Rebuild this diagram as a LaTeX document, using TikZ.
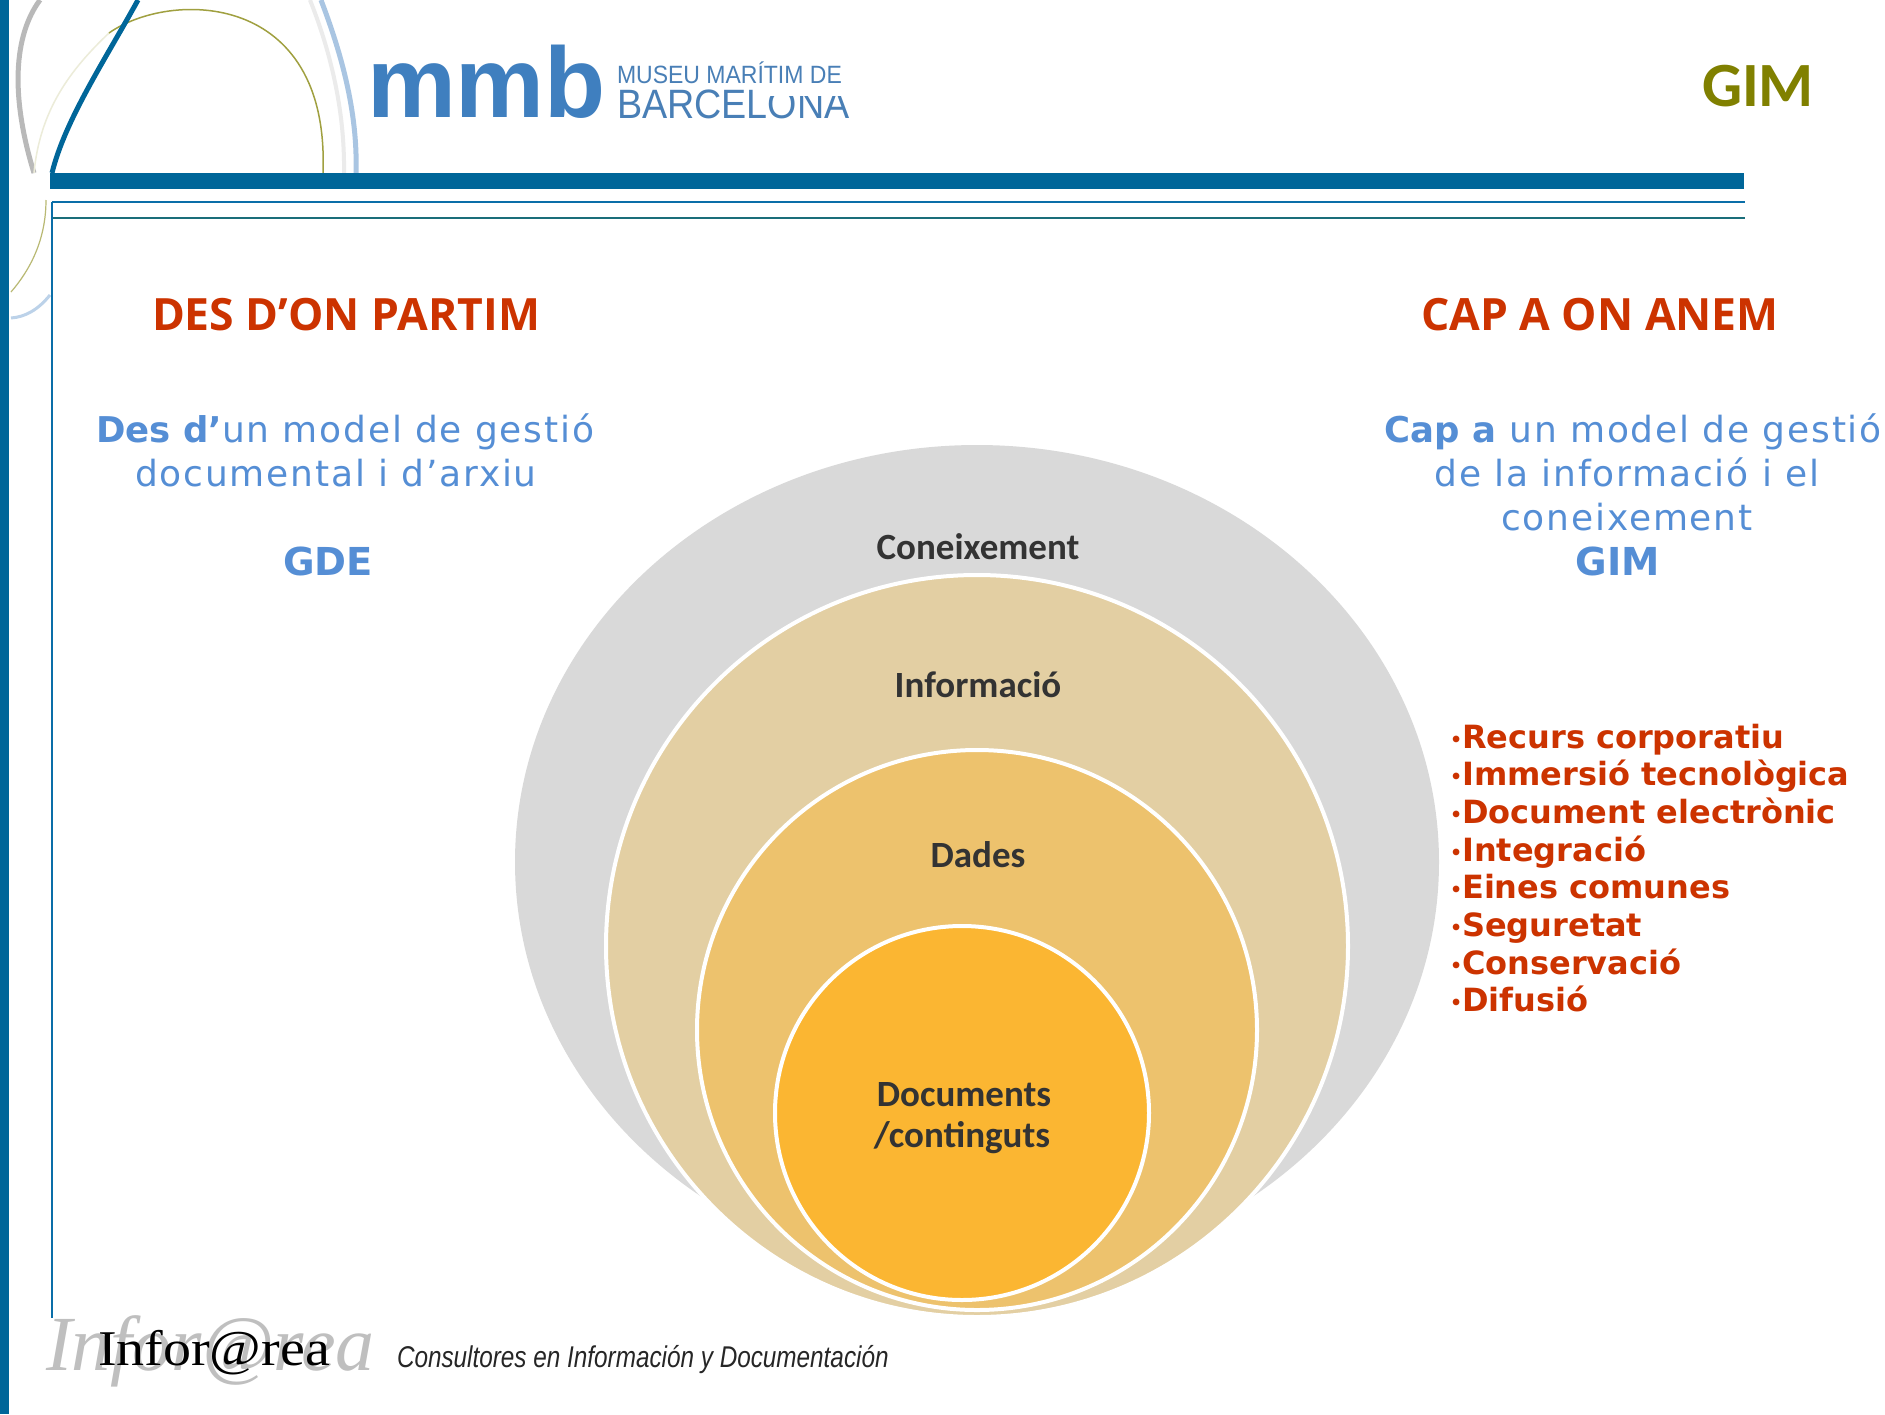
\documentclass[tikz,border=0pt]{standalone}
\usepackage{fontspec}
\setmainfont{Carlito}
\newfontfamily\titlefont{Open Sans}
\newfontfamily\vfont[LetterSpace=5]{DejaVu Sans}
\newfontfamily\vbfont{DejaVu Sans}
\newfontfamily\lsans{Liberation Sans}
\newfontfamily\lserif{Liberation Serif}
\definecolor{bar}{HTML}{006699}
\definecolor{thinb}{HTML}{0A6EA8}
\definecolor{thint}{HTML}{1A6E7A}
\definecolor{redt}{HTML}{CC3300}
\definecolor{bluet}{HTML}{558ED5}
\definecolor{olivet}{HTML}{808000}
\definecolor{logob}{HTML}{3F7FBF}
\definecolor{dark}{HTML}{333333}
\newcommand{\fs}[1]{\fontsize{#1}{#1}\selectfont}
\newcommand{\bul}{{\fs{19}\raisebox{2pt}{•}}}
\tikzset{
  txt/.style={anchor=base,inner sep=0pt,outer sep=0pt},
  lefttxt/.style={anchor=base west,inner sep=0pt,outer sep=0pt},
  ring/.style={draw=white,line width=4pt},
  title/.style={txt,text=redt,font=\titlefont\bfseries\fs{44.5}},
  bluel/.style={txt,text=bluet,font=\vfont\fs{36}},
  blueb/.style={txt,text=bluet,font=\vbfont\bfseries\fs{38.5}},
  item/.style={lefttxt,text=redt,font=\vbfont\bfseries\fs{32}},
  circ/.style={txt,text=dark,font=\bfseries\fs{37}},
}
\begin{document}
\begin{tikzpicture}[x=1pt,y=-1pt]
\useasboundingbox (0,0) rectangle (1885,1414);
\fill[white] (0,0) rectangle (1885,1414);
% swirl
\draw[gray!55,line width=5pt] (40,0) .. controls (14,35) and (10,95) .. (34,173);
\draw[black!8,line width=4pt] (310,0) .. controls (330,50) and (345,110) .. (344,173);
\draw[logob!45,line width=5pt] (321,0) .. controls (340,50) and (358,110) .. (356,173);
\draw[olivet!15,line width=1.5pt] (109,33) .. controls (70,70) and (40,110) .. (34,173);
\draw[olivet!75,line width=1.5pt] (109,33) .. controls (170,-10) and (330,-10) .. (323,173);
\draw[bar,line width=5pt] (138,0) .. controls (105,60) and (65,120) .. (52,173);
\draw[olivet!55,line width=1.2pt] (46,200) .. controls (46,240) and (30,270) .. (11,292);
\draw[logob!35,line width=3pt] (50,295) .. controls (38,310) and (25,317) .. (11,318);
% frame
\fill[bar] (0,0) rectangle (9,1414);
\fill[bar] (50,173) rectangle (1744,189);
\coordinate (t1a) at (52,202); \coordinate (t1b) at (1745,202);
\coordinate (t2a) at (52,218); \coordinate (t2b) at (1745,218);
\coordinate (vb) at (52,1318);
\draw[thinb,line width=1.6pt] (t1a) -- (t1b);
\draw[thint,line width=1.6pt] (t2a) -- (t2b);
\draw[thinb,line width=1.6pt] (t1a) -- (vb);
% logo
\node[lefttxt,text=logob,font=\lsans\bfseries\fs{100}] (mmb) at (367,117) {mmb};
\node[lefttxt,text=logob!85!gray,font=\lsans\fs{25}] (museu) at (617,83) {\scalebox{.92}[1]{MUSEU MARÍTIM DE}};
\node[lefttxt,text=logob!85!gray,font=\lsans\fs{41}] (barna) at (617,118) {\scalebox{.92}[1]{BARCELONA}};
\fill[white] (770,85) rectangle (855,96);
\node[txt,text=olivet,font=\bfseries\fs{63}] (gim) at (1758,106) {GIM};
% titles
\node[title] (t1) at (346,330) {DES D’ON PARTIM};
\node[title] (t2) at (1600,330) {CAP A ON ANEM};
% blue left
\node[bluel] (l1) at (339,442.5) {{\vbfont\bfseries\fs{35.5} Des d’}un model de gestió};
\node[bluel] (l2) at (336,486) {documental i d’arxiu};
\node[blueb] (l3) at (328,575) {GDE};
% blue right
\node[bluel] (r1) at (1627,442.5) {{\vbfont\bfseries\fs{35.5} Cap a} un model de gestió};
\node[bluel] (r2) at (1627,486) {de la informació i el};
\node[bluel] (r3) at (1627,530) {coneixement};
\node[blueb] (r4) at (1618,575) {GIM};
% list
\node[item] (i1) at (1450,748) {\bul Recurs corporatiu};
\node[item] (i2) at (1450,785.6) {\bul Immersió tecnològica};
\node[item] (i3) at (1450,823.3) {\bul Document electrònic};
\node[item] (i4) at (1450,861) {\bul Integració};
\node[item] (i5) at (1450,898.6) {\bul Eines comunes};
\node[item] (i6) at (1450,936.3) {\bul Seguretat};
\node[item] (i7) at (1450,974) {\bul Conservació};
\node[item] (i8) at (1450,1011.6) {\bul Difusió};
% circles
\fill[black!15] (977,862) ellipse [x radius=462,y radius=417];
\fill[ring,fill={rgb,255:red,227;green,207;blue,163}] (977,946) circle [radius=371];
\fill[ring,fill={rgb,255:red,237;green,194;blue,109}] (977,1030) circle [radius=280];
\fill[ring,fill={rgb,255:red,251;green,182;blue,50}] (962,1113) circle [radius=187];
\node[circ] (c1) at (978,559) {Coneixement};
\node[circ] (c2) at (978,697) {Informació};
\node[circ] (c3) at (978,867) {Dades};
\node[circ] (c4) at (964,1106) {Documents};
\node[circ] (c5) at (962,1147) {/continguts};
% footer logo
\node[lefttxt,text=black!25,font=\lserif\itshape\fs{78}] (ia2) at (46,1370) {Infor@rea};
\node[lefttxt,text=black,font=\lserif\fs{50}] (ia1) at (98,1365) {\scalebox{1.12}[1]{Infor@rea}};
\node[lefttxt,text=black!85,font=\lsans\itshape\fs{30}] (cons) at (397,1367) {\scalebox{.81}[1]{Consultores en Información y Documentación}};
\end{tikzpicture}
\end{document}
